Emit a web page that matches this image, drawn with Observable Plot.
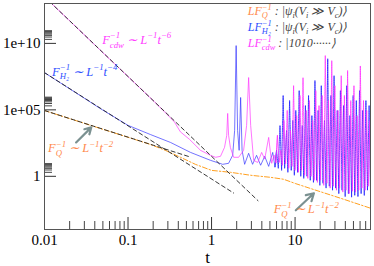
<!DOCTYPE html>
<html><head><meta charset="utf-8">
<script src="https://cdn.jsdelivr.net/npm/d3@7"></script>
<script src="https://cdn.jsdelivr.net/npm/@observablehq/plot@0.6"></script>
<style>
html,body{margin:0;padding:0;background:#fff;}
svg{display:block}
svg, svg text, svg tspan { font-family: "Liberation Serif", "Times New Roman", serif !important; }
</style>
</head><body><div id="chart"></div>
<script>
// ---- data (t, F^-1) ----
const qT = [0.01, 0.0465, 0.1, 0.185, 0.28, 0.425, 0.64, 1, 1.69, 2.94, 5.1, 7.3, 10.2, 15.4, 35.4, 80];
const qF = [8.9e4, 4e3, 870, 250, 90, 27, 8, 2.8, 2, 1.2, 0.84, 0.6, 0.28, 0.12, 0.022, 0.004];

const h2T = [0.01, 0.0267, 0.0465, 0.1, 0.185, 0.322, 0.56, 0.97, 1.36, 1.6, 1.79, 1.89, 1.97, 2.05, 2.14, 2.23, 2.32, 2.49, 2.78, 3.1, 3.46, 3.87, 4.33, 4.83, 5.4, 5.75,
  6.0, 6.3, 6.6, 6.9, 7.2, 7.5, 7.9, 8.2, 8.6, 9.0, 9.4, 9.8, 10.2, 10.7, 11.2, 11.7, 12.2, 12.7, 13.3, 13.9, 14.5, 15.2, 15.9, 16.6, 17.3, 18.1, 18.9, 19.8, 20.6, 21.6,
  22.5, 23.5, 24.6, 25.7, 26.9, 28.1, 29.3, 30.6, 32.0, 33.4, 34.9, 36.5, 38.1, 39.8, 41.6, 43.5, 45.4, 47.5, 49.6, 51.8, 54.1, 56.6, 59.1, 61.8, 64.5, 67.4, 70.5, 73.6, 77, 80];
const h2F = [6.3e7, 1.2e6, 1.26e5, 6.8e3, 1.4e3, 355, 63, 16, 8, 9.5, 38, 2.8e3, 6.8e9, 2.8e3, 90, 8.5e5, 90, 8, 54, 8, 38, 6.8, 32, 5.6, 63, 5,
  90, 4, 6.6e3, 2.8, 1.2e6, 4, 2.8e3, 2, 5e5, 2.8, 1.6e4, 1.2, 9e4, 2, 2.8e6, 1, 6.6e3, 0.7, 2.1e5, 1, 1.2e6, 0.5, 3.7e4, 0.35,
  1.6e7, 0.5, 9e4, 0.21, 6.6e6, 0.3, 1.6e4, 0.13, 7e8, 0.18, 1.2e6, 0.09, 3.7e7, 0.13, 9e4, 0.05, 2.8e6, 0.09, 2.1e5, 0.03,
  6.6e6, 0.05, 3.7e4, 0.027, 1.2e6, 0.037, 5e5, 0.03, 2.8e6, 0.05, 9e4, 0.037, 5e5, 0.09, 2.1e5, 0.065];

const cdwT = [0.01, 0.02, 0.05, 0.1, 0.2, 0.3, 0.36, 0.424, 0.545, 0.738, 0.97, 1.12, 1.28, 1.43, 1.52, 1.56, 1.6, 1.68, 1.84, 2.11, 2.42, 2.63, 2.78, 2.94, 3.19, 3.57, 3.98, 4.33, 4.83, 5.25, 5.6, 5.9,
  6.15, 6.45, 6.75, 7.05, 7.35, 7.7, 8.05, 8.4, 8.8, 9.2, 9.6, 10.0, 10.45, 10.95, 11.45, 11.95, 12.45, 13.0, 13.6, 14.2, 14.85, 15.55, 16.25, 16.95, 17.7, 18.5,
  19.35, 20.2, 21.1, 22.05, 23.0, 24.05, 25.15, 26.3, 27.5, 28.7, 29.95, 31.3, 32.7, 34.15, 35.7, 37.3, 38.95, 40.7, 42.55, 44.45, 46.45, 48.55, 50.7, 52.95,
  55.35, 57.85, 60.45, 63.15, 65.95, 68.95, 72.05, 75.3, 78.5, 80];
const cdwF = [3.2e13, 5e11, 2e9, 3.2e7, 5e5, 4e4, 1.2e4, 2.2e3, 600, 90, 38, 27, 32, 150, 1.2e3, 5.4e4, 1.2e3, 150, 27, 27, 90, 6.8e3, 2.7e7, 6.8e3, 16, 11, 63, 20, 850, 9.5, 40, 10,
  1.2e3, 11, 90, 6.8, 1.6e4, 9, 9e4, 4, 2.8e3, 5.6, 6.6e6, 2.8, 3.7e4, 2, 1.2e6, 2.8, 2.6e7, 1.2, 9e4, 0.7, 5e5, 1, 1.6e4, 0.5, 2.8e6, 0.35,
  2.1e5, 0.5, 1.2e6, 0.21, 1.2e9, 0.3, 5e5, 0.13, 5e8, 0.18, 6.6e6, 0.09, 9e4, 0.13, 3.7e7, 0.065, 1.2e6, 0.09, 9e7, 0.05, 5e5, 0.075, 6.6e6, 0.065,
  3.7e4, 0.09, 2e8, 0.13, 5e5, 0.09, 9e4, 0.18, 1.6e4, 0.13];

// power-law guide lines (endpoints)
const guide6T = [0.01, 3.6],  guide6F = [3.2e13, 0.0147];
const guide4T = [0.01, 1.84], guide4F = [6.3e7, 0.055];
const guide2T = [0.01, 0.55], guide2F = [8.9e4, 29];

// axis ticks
const xMajor = [0.01, 0.1, 1, 10];
const xTickLabels = ["0.01", "0.1", "1", "10"];
const xMinor = [0.02,0.03,0.04,0.05,0.06,0.07,0.08,0.09,0.2,0.3,0.4,0.5,0.6,0.7,0.8,0.9,2,3,4,5,6,7,8,9,20,30,40,50,60,70,80];
const yMajor = [1, 1e5, 1e10];
const yTickLabels = ["1", "1e+05", "1e+10"];
const yMinor = [2,3,4,5,6,7,8,9,2e5,3e5,4e5,5e5,6e5,7e5,8e5,9e5,2e10,3e10,4e10,5e10,6e10,7e10,8e10,9e10];

// annotations
const notes = [
  {t: 0.0491, F: 9.5e9, label: "F^{−1}_{cdw} ∼ L^{−1}t^{−6}", color: "#ff3cff"},
  {t: 0.01233, F: 3.8e7, label: "F^{−1}_{H₂} ∼ L^{−1}t^{−4}", color: "#3050ff"},
  {t: 0.01104, F: 63, label: "F^{−1}_{Q} ∼ L^{−1}t^{−2}", color: "#ff8a4c"},
  {t: 5.55, F: 1.7e-3, label: "F^{−1}_{Q} ∼ L^{−1}t^{−2}", color: "#ff8a4c"}
];
// legend rows: key (coloured) § description (grey)
const legendRows = [
  {t: 2.72, F: 1.4e12, label: "LF^{−1}_{Q}§ : |ψ_{i}(V_{i} ≫ V_{c})⟩", color: "#ff8a4c"},
  {t: 2.72, F: 8.9e10, label: "LF^{−1}_{H₂}§ : |ψ_{i}(V_{i} ≫ V_{c})⟩", color: "#3050ff"},
  {t: 2.72, F: 5.6e9, label: "LF^{−1}_{cdw}§ : |1010······⟩", color: "#ff3cff"}
];
const arrows = [
  {t1: 0.0239, F1: 355, t2: 0.0363, F2: 4.8e3},
  {t1: 10.2, F1: 0.0028, t2: 16.8, F2: 0.053}
];

const zip = (T, F) => T.map((t, i) => ({t, F: F[i]}));
const q = zip(qT, qF), h2 = zip(h2T, h2F), cdw = zip(cdwT, cdwF);
const g6 = zip(guide6T, guide6F), g4 = zip(guide4T, guide4F), g2 = zip(guide2T, guide2F);
const early = d => d.t <= 6.2, late = d => d.t >= 5.7;

const W = 374, H = 266, ML = 44, MR = 4, MT = 3, MB = 37;
const fw = W - ML - MR, fh = H - MT - MB;

const chart = Plot.plot({
  width: W, height: H,
  marginLeft: ML, marginRight: MR, marginTop: MT, marginBottom: MB,
  style: {fontFamily: "'Liberation Serif', serif", fontSize: "15px", background: "#fff", color: "#000"},
  x: {type: "log", domain: [0.01, 80]},
  y: {type: "log", domain: [1e-4, 1e13]},
  marks: [
    Plot.line(q, {x: "t", y: "F", stroke: "#ffa020", strokeWidth: 1, strokeDasharray: "5,2,1.5,2", clip: true}),
    Plot.line(h2, {filter: late, x: "t", y: "F", stroke: "#2020ff", strokeWidth: 0.9, strokeDasharray: "1.4,0.9", strokeOpacity: 0.9, clip: true}),
    Plot.line(cdw, {filter: late, x: "t", y: "F", stroke: "#ff2bff", strokeWidth: 0.9, strokeDasharray: "1.4,0.9", strokeOpacity: 0.85, clip: true}),
    Plot.line(h2, {filter: early, x: "t", y: "F", stroke: "#2f2fff", strokeWidth: 0.8, strokeOpacity: 0.85, clip: true}),
    Plot.line(cdw, {filter: early, x: "t", y: "F", stroke: "#ff33ff", strokeWidth: 0.8, strokeOpacity: 0.85, clip: true}),
    Plot.line(g6, {x: "t", y: "F", stroke: "#222", strokeWidth: 0.9, strokeDasharray: "4,3", clip: true}),
    Plot.line(g4, {x: "t", y: "F", stroke: "#222", strokeWidth: 0.9, strokeDasharray: "4,3", clip: true}),
    Plot.line(g2, {x: "t", y: "F", stroke: "#222", strokeWidth: 0.9, strokeDasharray: "4,3", clip: true}),
    Plot.arrow(arrows, {x1: "t1", y1: "F1", x2: "t2", y2: "F2", stroke: "#7b9191", strokeWidth: 2.2, headLength: 7}),
    Plot.text(notes, {x: "t", y: "F", text: "label", fill: "color", textAnchor: "start", lineAnchor: "bottom", fontSize: 12.5, fontStyle: "italic"}),
    Plot.text(legendRows, {x: "t", y: "F", text: "label", fill: "color", textAnchor: "start", lineAnchor: "bottom", fontSize: 12, fontStyle: "italic"}),
    Plot.tickX(xMajor, {x: d => d, insetTop: fh - 12, stroke: "#333"}),
    Plot.tickX(xMinor, {x: d => d, insetTop: fh - 8, stroke: "#444"}),
    Plot.tickY(yMajor, {y: d => d, insetRight: fw - 12, stroke: "#333"}),
    Plot.tickY(yMinor, {y: d => d, insetRight: fw - 8, stroke: "#444"}),
    Plot.frame({stroke: "#555", strokeWidth: 1}),
    Plot.axisX({ticks: xMajor, tickSize: 0, tickPadding: 5, fontSize: 15, label: null, tickFormat: d => xTickLabels[xMajor.indexOf(d)]}),
    Plot.axisY({ticks: yMajor, tickSize: 0, tickPadding: 4, fontSize: 15, label: null, tickFormat: d => yTickLabels[yMajor.indexOf(d)]}),
    Plot.text(["t"], {frameAnchor: "bottom", text: d => d, dy: 28, lineAnchor: "middle", fontSize: 17})
  ]
});
document.getElementById("chart").appendChild(chart);

// ---- rich-text (super/subscripts, colour switch) for math labels ----
function parse(s) {
  const out = []; let i = 0, buf = "";
  const flush = () => { if (buf) { out.push({t: "n", s: buf}); buf = ""; } };
  while (i < s.length) {
    const c = s[i];
    if ((c === "^" || c === "_") && s[i + 1] === "{") {
      flush();
      const j = s.indexOf("}", i);
      out.push({t: c === "^" ? "sup" : "sub", s: s.slice(i + 2, j)});
      i = j + 1;
    } else if (c === "§") {
      flush(); out.push({t: "sw"}); i++;
    } else { buf += c; i++; }
  }
  flush();
  return out;
}
function renderRich(el, supK, subK) {
  const s = el.textContent;
  const size = parseFloat(getComputedStyle(el).fontSize) || 13;
  const toks = parse(s);
  while (el.firstChild) el.removeChild(el.firstChild);
  let cur = 0, pendingDx = 0, gray = false, prev = null;
  for (const tok of toks) {
    if (tok.t === "sw") { gray = true; continue; }
    const ts = document.createElementNS("http://www.w3.org/2000/svg", "tspan");
    ts.textContent = tok.s;
    const target = tok.t === "sup" ? -supK * size : tok.t === "sub" ? subK * size : 0;
    ts.setAttribute("dy", (target - cur).toFixed(2));
    cur = target;
    if (tok.t !== "n") ts.setAttribute("font-size", (0.7 * size).toFixed(2));
    if (gray) ts.setAttribute("fill", "#444");
    el.appendChild(ts);
    if (prev && prev.t !== "n" && tok.t !== "n" && prev.t !== tok.t && !prev.stacked) {
      const pw = prev.el.getComputedTextLength();
      ts.setAttribute("dx", (-pw).toFixed(2));
      const w = ts.getComputedTextLength();
      pendingDx = Math.max(0, pw - w);
      tok.stacked = true;
    } else if (pendingDx) {
      ts.setAttribute("dx", pendingDx.toFixed(2)); pendingDx = 0;
    }
    tok.el = ts;
    prev = tok;
  }
}
chart.querySelectorAll("text").forEach(el => {
  const s = el.textContent;
  if (s.includes("^{") || s.includes("_{")) {
    if (s.includes("§")) renderRich(el, 0.4, 0.26);
    else renderRich(el, 0.45, 0.31);
  }
});
</script></body></html>
